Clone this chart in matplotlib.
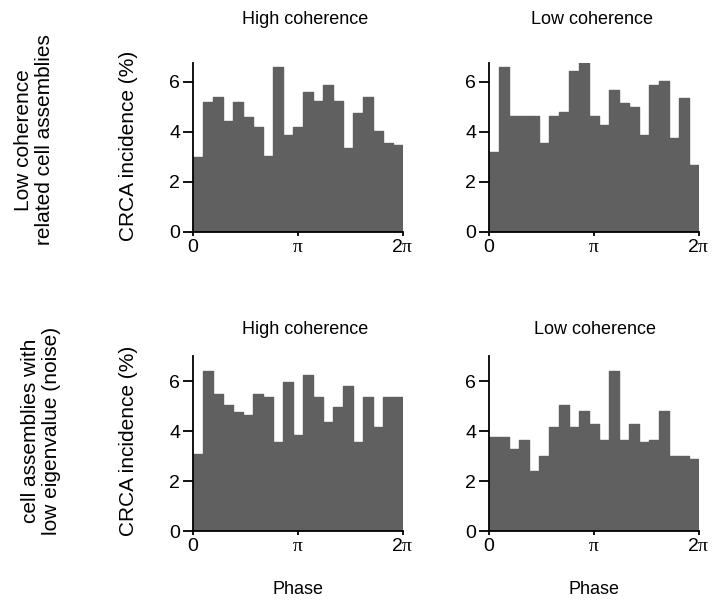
import numpy as np
import matplotlib
matplotlib.use("Agg")
import matplotlib.pyplot as plt

plt.rcParams['font.family'] = ['Liberation Sans', 'DejaVu Sans']
plt.rcParams['mathtext.fontset'] = 'custom'
plt.rcParams['mathtext.rm'] = 'Liberation Serif'
plt.rcParams['mathtext.it'] = 'Liberation Serif'

# Data: CRCA incidence (%) per phase bin (21 bins over 0..2pi)
low_coh_related_high = [3.0, 5.2, 5.4, 4.45, 5.2, 4.6, 4.2, 3.05, 6.6, 3.9, 4.2, 5.6,
                        5.25, 5.9, 5.25, 3.35, 4.75, 5.4, 4.05, 3.55, 3.5]
low_coh_related_low = [3.2, 6.6, 4.65, 4.65, 4.65, 3.55, 4.65, 4.8, 6.45, 6.95, 4.65, 4.3,
                       5.7, 5.15, 5.0, 3.9, 5.9, 6.05, 3.75, 5.35, 2.7]
noise_high = [3.1, 6.4, 5.5, 5.05, 4.75, 4.65, 5.5, 5.35, 3.55, 5.95, 3.85, 6.25,
              5.35, 4.35, 4.95, 5.8, 3.55, 5.35, 4.15, 5.35, 5.35]
noise_low = [3.75, 3.75, 3.3, 3.65, 2.4, 3.0, 4.15, 5.05, 4.15, 4.8, 4.3, 3.65,
             6.4, 3.65, 4.3, 3.55, 3.65, 4.8, 3.0, 3.0, 2.9]

titles = ["High coherence", "Low coherence"]
row_labels = ["Low coherence\nrelated cell assemblies",
              "cell assemblies with\nlow eigenvalue (noise)"]
ylabel = "CRCA incidence (%)"
xlabel = "Phase"
xtick_labels = ["0", r"$\pi$", r"2$\pi$"]
ytick_vals = [0, 2, 4, 6]

panels = [[low_coh_related_high, low_coh_related_low],
          [noise_high, noise_low]]

W, H = 714, 605
fig = plt.figure(figsize=(W / 100, H / 100), dpi=100)

def fx(px):
    return px / W

def fy(py):
    return 1 - py / H

bar_color = '#606060'
lefts = [192.5, 488.5]
width = 210
rows = [(232, 63, 6.76), (531, 356, 7.0)]

n_bins = 21
edges = np.linspace(0, 2 * np.pi, n_bins + 1)
centers = (edges[:-1] + edges[1:]) / 2
bw = edges[1] - edges[0]

tick_fs = 14
label_fs = 15
title_fs = 13
title_x = [[305, 592], [305, 595]]
title_y = [20, 330]
ylabel_y = [145.5, 441]

for r in range(2):
    y0, ytop_px, ytop = rows[r]
    for c in range(2):
        ax = fig.add_axes([fx(lefts[c]), fy(y0), width / W, (y0 - ytop_px) / H])
        vals = panels[r][c]
        ax.bar(centers, vals, width=bw, color=bar_color, edgecolor=bar_color,
               linewidth=1.0, joinstyle='round')
        ax.set_xlim(0, 2 * np.pi)
        ax.set_ylim(0, ytop)
        for s in ['top', 'right']:
            ax.spines[s].set_visible(False)
        for s in ['left', 'bottom']:
            ax.spines[s].set_linewidth(1.3)
            ax.spines[s].set_color('black')
        ax.set_xticks([0, np.pi, 2 * np.pi])
        ax.set_xticklabels(xtick_labels)
        ax.set_yticks(ytick_vals)
        ax.set_yticklabels([str(v) for v in ytick_vals])
        ax.tick_params(axis='y', length=7, width=1.3, pad=2, labelsize=tick_fs)
        ax.tick_params(axis='x', length=3, width=1.3, pad=2, labelsize=tick_fs)
        fig.text(fx(title_x[r][c]), fy(title_y[r]), titles[c], fontsize=title_fs,
                 ha='center', va='center')
        if r == 1:
            fig.text(fx(lefts[c] + width / 2), fy(589), xlabel, fontsize=title_fs,
                     ha='center', va='center')
    fig.text(fx(128), fy(ylabel_y[r]), ylabel, rotation=90, ha='center', va='center',
             fontsize=label_fs)

fig.text(fx(34), fy(140), row_labels[0], rotation=90, ha='center', va='center',
         fontsize=label_fs, multialignment='center', linespacing=1.15)
fig.text(fx(41), fy(431), row_labels[1], rotation=90, ha='center', va='center',
         fontsize=label_fs, multialignment='center', linespacing=1.15)

fig.savefig("out.png", dpi=100)
